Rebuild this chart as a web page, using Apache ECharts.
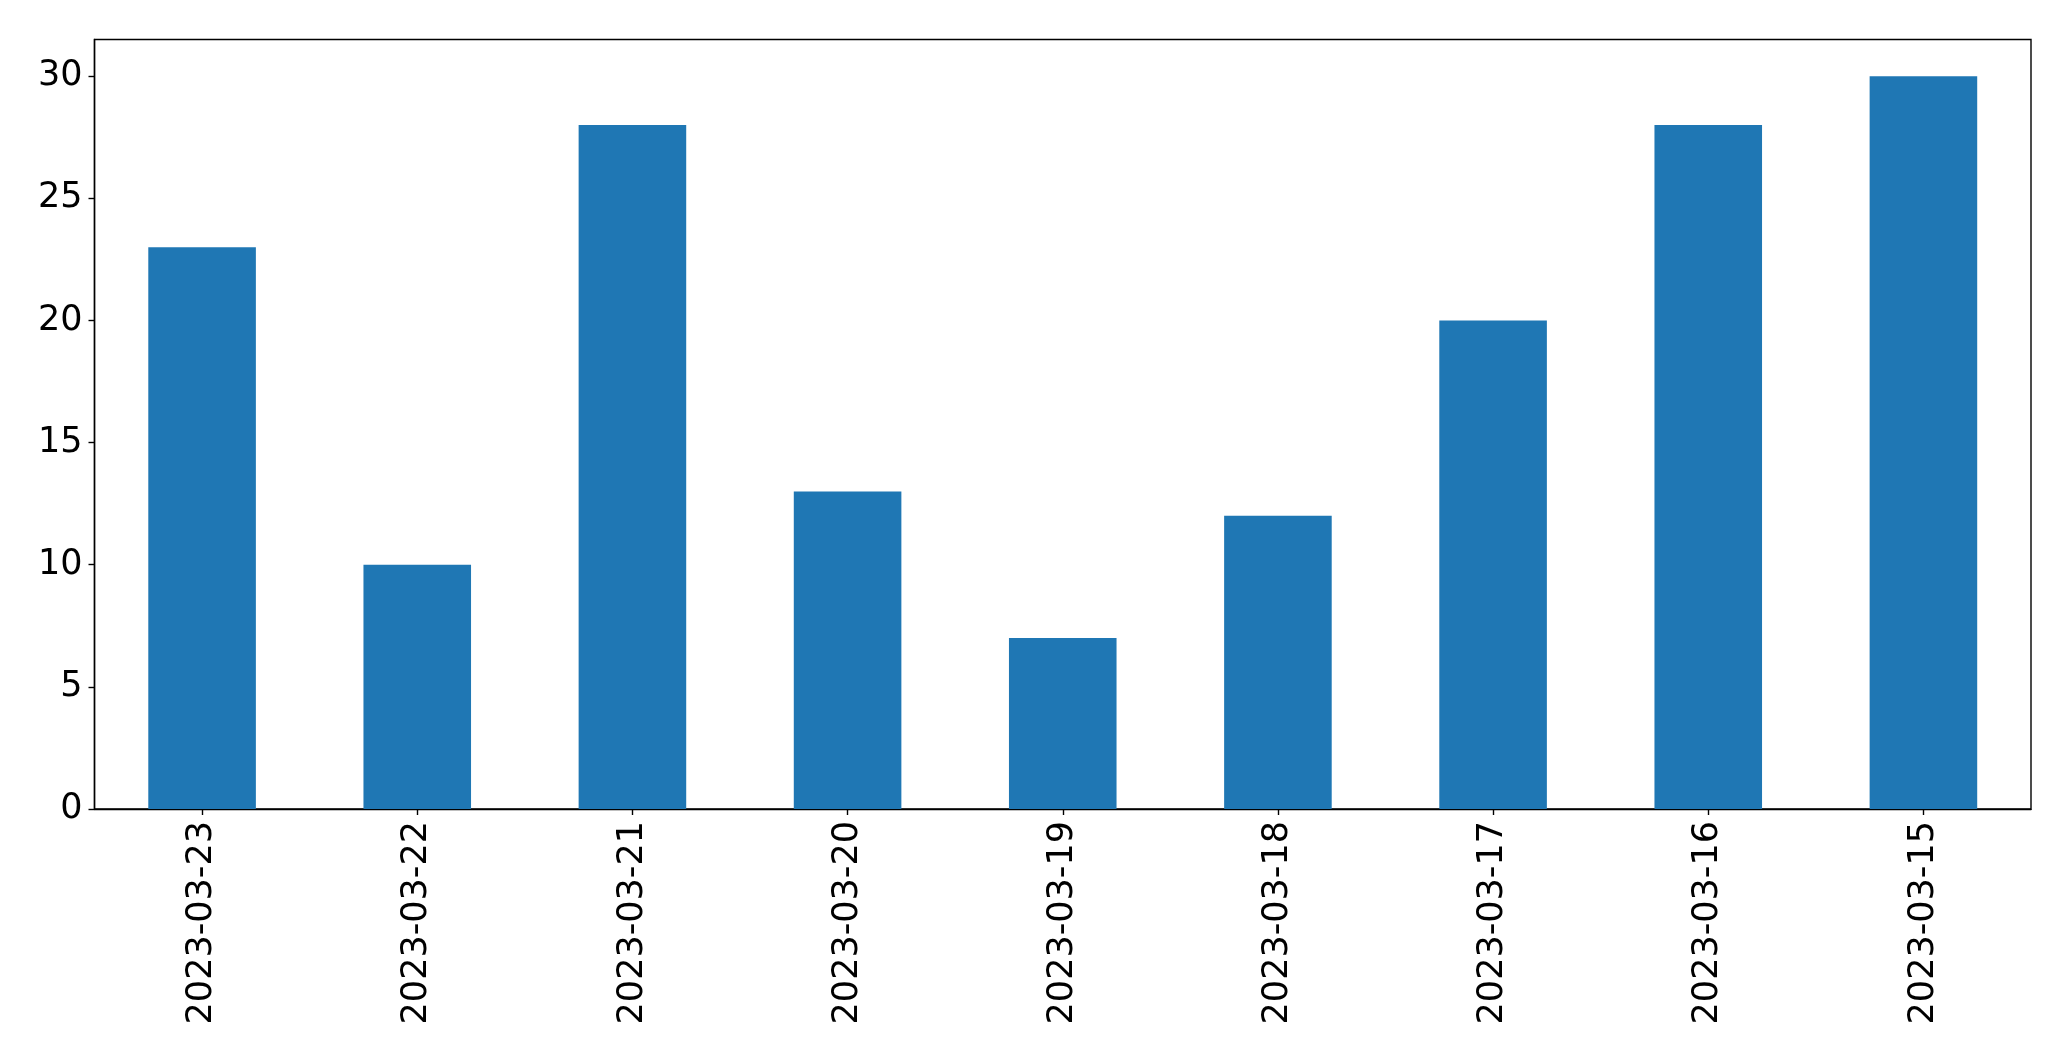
<!DOCTYPE html>
<html>
<head>
<meta charset="utf-8">
<script src="https://cdn.jsdelivr.net/npm/echarts@6/dist/echarts.min.js"></script>
<style>html,body{margin:0;padding:0;background:#fff;}#c{width:2071px;height:1061px;}</style>
</head>
<body>
<div id="c"></div>
<script>
const categories = ["2023-03-23","2023-03-22","2023-03-21","2023-03-20","2023-03-19","2023-03-18","2023-03-17","2023-03-16","2023-03-15"];
const values = [23, 10, 28, 13, 7, 12, 20, 28, 30];
const yTicks = [0, 5, 10, 15, 20, 25, 30];

const chart = echarts.init(document.getElementById('c'), null, {renderer: 'canvas'});
const font = 'DejaVu Sans';
chart.setOption({
  animation: false,
  backgroundColor: '#ffffff',
  grid: {left: 94.5, right: 40, top: 39.5, bottom: 252, containLabel: false,
         show: true, borderColor: '#000', borderWidth: 1.4, backgroundColor: 'transparent'},
  xAxis: {
    type: 'category',
    data: categories,
    boundaryGap: true,
    axisLine: {show: true, lineStyle: {color: '#000', width: 1.4}},
    axisTick: {show: true, alignWithLabel: true, length: 6, lineStyle: {color: '#000', width: 1.4}},
    axisLabel: {rotate: 90, fontFamily: font, fontSize: 35, color: '#000', margin: 12, interval: 0}
  },
  yAxis: {
    type: 'value',
    min: 0, max: 31.5, interval: 5,
    splitLine: {show: false},
    axisLine: {show: true, lineStyle: {color: '#000', width: 1.4}},
    axisTick: {show: true, length: 6, customValues: yTicks, lineStyle: {color: '#000', width: 1.4}},
    axisLabel: {fontFamily: font, fontSize: 35, color: '#000', margin: 12, customValues: yTicks}
  },
  series: [{
    type: 'bar',
    data: values,
    barWidth: '50%',
    itemStyle: {color: '#1f77b4', borderWidth: 0}
  }]
});
</script>
</body>
</html>
